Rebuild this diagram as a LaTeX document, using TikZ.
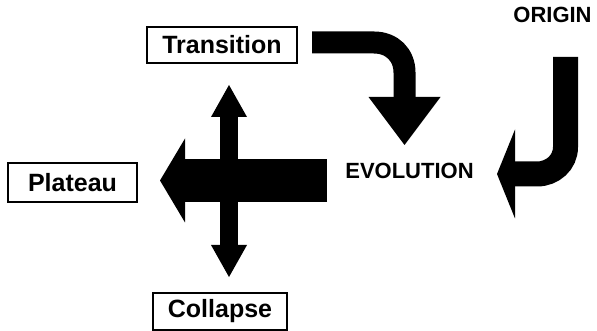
\documentclass[tikz,border=0pt]{standalone}
\usepackage{fontspec}
\setmainfont{Liberation Sans}
\usepackage{tikz}
\usetikzlibrary{arrows.meta, positioning}
\tikzset{
  lbl/.style   ={draw, line width=2.5pt, inner sep=0pt, font=\fontsize{25}{28}\bfseries\selectfont},
  word/.style  ={inner sep=0pt, font=\fontsize{22}{26}\bfseries\selectfont},
  fat/.style   ={line width=#1, black, line cap=butt},                         % wide arrow body
  curl/.style  ={fat=22pt, -{Triangle[length=48pt, width=72pt, line width=0pt]}},
  hook/.style  ={fat=25pt, -{Triangle[length=18pt, width=89pt, line width=0pt]}},
  wide/.style  ={fat=43pt, -{Triangle[length=25pt, width=84pt, line width=0pt]}},
  twin/.style  ={fat=18pt, {Triangle[length=32pt, width=36pt, line width=0pt]}-{Triangle[length=32pt, width=36pt, line width=0pt]}},
}
\begin{document}
\begin{tikzpicture}[x=1pt, y=-1pt]
  \useasboundingbox (0,0) rectangle (597,331);
  % labels
  \node[lbl, minimum width=150pt, minimum height=36pt] (transition) at (222,45)    {Transition};
  \node[lbl, minimum width=129pt, minimum height=39pt] (plateau)    at (72.5,182.5) {Plateau};
  \node[lbl, minimum width=134pt, minimum height=37pt] (collapse)   at (220,311.5) {Collapse};
  \node[word] (evolution) at (409.5,170.5) {EVOLUTION};
  \node[word] (origin)    at (552.5,14.5)  {ORIGIN};
  % arrow ends
  \coordinate (t0) at (312,42.5);
  \coordinate (t1) at (404.5,145);
  \coordinate (o0) at (565.5,57);
  \coordinate (o1) at (497,174);
  \coordinate (e0) at (327,180.5);
  \coordinate (e1) at (160,180.5);
  \coordinate (up) at (229,85);
  \coordinate (dn) at (229,277);
  % arrows
  \draw[curl] (t0) -- (374,42.5) .. controls (392,42.5) and (404.5,55) .. (404.5,72.5) -- (t1);
  \draw[hook] (o0) -- (565.5,147) .. controls (565.5,162.5) and (552.5,174) .. (537,174) -- (o1);
  \draw[wide] (e0) -- (e1);
  \draw[twin] (up) -- (dn);
\end{tikzpicture}
\end{document}
